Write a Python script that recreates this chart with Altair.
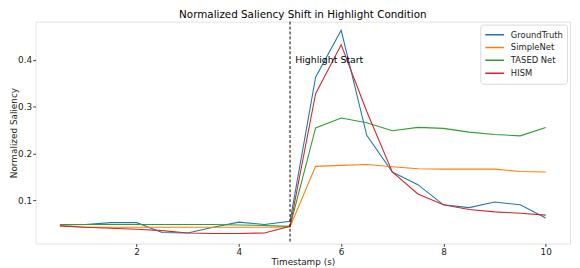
import altair as alt
import pandas as pd

timestamps = [0.5, 1.0, 1.5, 2.0, 2.5, 3.0, 3.5, 4.0, 4.5, 5.0,
              5.5, 6.0, 6.5, 7.0, 7.5, 8.0, 8.5, 9.0, 9.5, 10.0]
ground_truth = [0.048, 0.049, 0.053, 0.053, 0.032, 0.031, 0.043, 0.054, 0.049, 0.056,
                0.363, 0.463, 0.239, 0.161, 0.134, 0.091, 0.085, 0.097, 0.091, 0.063]
simplenet = [0.046, 0.043, 0.043, 0.043, 0.043, 0.043, 0.043, 0.043, 0.043, 0.044,
             0.173, 0.175, 0.177, 0.172, 0.168, 0.167, 0.167, 0.167, 0.162, 0.161]
tased_net = [0.049, 0.049, 0.049, 0.049, 0.049, 0.049, 0.049, 0.048, 0.047, 0.045,
             0.255, 0.276, 0.266, 0.249, 0.256, 0.254, 0.246, 0.241, 0.238, 0.256]
hism = [0.046, 0.043, 0.041, 0.039, 0.036, 0.031, 0.030, 0.030, 0.031, 0.045,
        0.328, 0.432, 0.290, 0.161, 0.114, 0.091, 0.081, 0.076, 0.073, 0.069]

series_names = ["GroundTruth", "SimpleNet", "TASED Net", "HISM"]
series_values = [ground_truth, simplenet, tased_net, hism]
series_colors = ["#1f77b4", "#ff7f0e", "#2ca02c", "#d62728"]

x_ticks = [2, 4, 6, 8, 10]
y_ticks = [0.1, 0.2, 0.3, 0.4]
highlight_time = 5.0

rows = []
for name, vals in zip(series_names, series_values):
    for i, (t, v) in enumerate(zip(timestamps, vals)):
        rows.append({"Timestamp": t, "Saliency": v, "Model": name, "order": i})
df = pd.DataFrame(rows)

FONT = "DejaVu Sans"
PLOT_W = 542
PLOT_H = 225

x_scale = alt.Scale(domain=[0.025, 10.475], nice=False, zero=False)
y_scale = alt.Scale(domain=[0.0085, 0.4815], nice=False, zero=False)

lines = alt.Chart(df).mark_line(strokeWidth=1.1, clip=True).encode(
    x=alt.X("Timestamp:Q", scale=x_scale,
            axis=alt.Axis(title="Timestamp (s)", values=x_ticks, format="d",
                          grid=False, domain=False, titlePadding=1)),
    y=alt.Y("Saliency:Q", scale=y_scale,
            axis=alt.Axis(title="Normalized Saliency", values=y_ticks, format=".1f",
                          grid=False, domain=False, titleX=-22,
                          titleBaseline="middle", titleAlign="center")),
    color=alt.Color("Model:N",
                    scale=alt.Scale(domain=series_names, range=series_colors),
                    legend=alt.Legend(title=None, orient="none",
                                      legendX=PLOT_W - 91, legendY=3,
                                      symbolType="stroke", symbolSize=361,
                                      symbolStrokeWidth=1.5, clipHeight=12.5,
                                      rowPadding=0, labelFontSize=8.5, labelFont=FONT,
                                      labelColor="#222", labelOffset=6,
                                      strokeColor="#d8d8d8", fillColor="white",
                                      cornerRadius=3, padding=4)),
    order="order:Q",
)

rule_df = pd.DataFrame({"Timestamp": [highlight_time]})
rule = alt.Chart(rule_df).mark_rule(color="black", strokeDash=[3, 2], strokeWidth=1).encode(
    x=alt.X("Timestamp:Q", scale=x_scale)
)

text_df = pd.DataFrame({"Timestamp": [highlight_time + 0.1], "Saliency": [0.4],
                        "label": ["Highlight Start"]})
text = alt.Chart(text_df).mark_text(align="left", baseline="middle", fontSize=9.5,
                                    font=FONT, color="black").encode(
    x=alt.X("Timestamp:Q", scale=x_scale),
    y=alt.Y("Saliency:Q", scale=y_scale),
    text="label:N",
)

chart = alt.layer(lines, rule, text).properties(
    width=PLOT_W,
    height=PLOT_H,
    autosize=alt.AutoSizeParams(type="none"),
    padding={"left": 28, "top": 12, "right": 2, "bottom": 23},
    title=alt.TitleParams("Normalized Saliency Shift in Highlight Condition",
                          font=FONT, fontSize=10.5, fontWeight="normal",
                          color="black", offset=1, anchor="middle"),
).configure_view(
    stroke="#e3e3e3", strokeWidth=1
).configure_axis(
    labelFont=FONT, labelFontSize=9, labelColor="#222",
    titleFont=FONT, titleFontSize=9, titleFontWeight="normal", titleColor="#222",
    tickColor="#444", tickSize=3, labelPadding=1,
)

chart.save("out.html", embed_options={"renderer": "svg", "actions": False})
